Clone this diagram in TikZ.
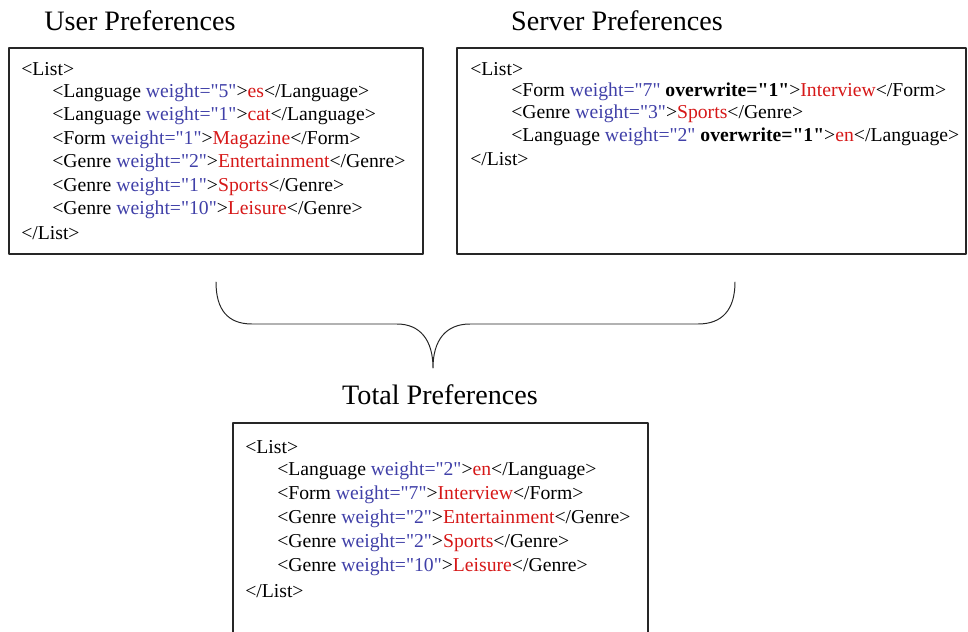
\documentclass[tikz,border=0pt]{standalone}
\usepackage{fontspec}
\newfontfamily\xmlfont{Liberation Serif}
\usetikzlibrary{positioning}
\definecolor{xmlblue}{RGB}{64,64,168}
\definecolor{xmlred}{RGB}{214,24,24}
\newcommand{\wt}[1]{\textcolor{xmlblue}{weight="#1"}}
\newcommand{\val}[1]{\textcolor{xmlred}{#1}}
\newcommand{\ow}{\textbf{overwrite="1"}}
\tikzset{
	title/.style={font=\xmlfont\fontsize{20}{24}\selectfont},
	xml/.style={anchor=west, inner sep=0pt, font=\xmlfont\fontsize{14}{17}\selectfont},
	prefbox/.style={draw=black!85, line width=.8pt},
}
\begin{document}
\begin{tikzpicture}[x=.025cm, y=-.025cm, line join=round, line cap=round]
	\useasboundingbox (0,0) rectangle (968,632);
	% titles
	\node[title] (usertitle) at (140,21) {User Preferences};
	\node[title] (servertitle) at (617,21) {Server Preferences};
	\node[title] (totaltitle) at (440,395) {Total Preferences};
	% boxes
	\draw[prefbox] (9,48) rectangle (423,254);
	\draw[prefbox] (457,48) rectangle (966,254);
	\draw[prefbox, line width=1.6pt] (233,650)--(233,423)--(648,423)--(648,650);
	% user list
	\node[xml] (u0) at (21,69) {<List>};
	\foreach \txt [count=\i] in {
		{<Language \wt{5}>\val{es}</Language>},
		{<Language \wt{1}>\val{cat}</Language>},
		{<Form \wt{1}>\val{Magazine}</Form>},
		{<Genre \wt{2}>\val{Entertainment}</Genre>},
		{<Genre \wt{1}>\val{Sports}</Genre>},
		{<Genre \wt{10}>\val{Leisure}</Genre>}}
	\node[xml] (u\i) at (52,{69+23.5*\i}) {\txt};
	\node[xml] (u7) at (21,233.5) {</List>};
	% server list
	\node[xml] (s0) at (470,69) {<List>};
	\foreach \txt [count=\i] in {
		{<Form \wt{7} \ow>\val{Interview}</Form>},
		{<Genre \wt{3}>\val{Sports}</Genre>},
		{<Language \wt{2} \ow>\val{en}</Language>}}
	\node[xml] (s\i) at (511,{69+22.5*\i}) {\txt};
	\node[xml] (s4) at (470,159) {</List>};
	% total list
	\node[xml] (t0) at (245,447) {<List>};
	\foreach \txt [count=\i] in {
		{<Language \wt{2}>\val{en}</Language>},
		{<Form \wt{7}>\val{Interview}</Form>},
		{<Genre \wt{2}>\val{Entertainment}</Genre>},
		{<Genre \wt{2}>\val{Sports}</Genre>},
		{<Genre \wt{10}>\val{Leisure}</Genre>}}
	\node[xml] (t\i) at (277,{447+24*\i}) {\txt};
	\node[xml] (t6) at (245,591) {</List>};
	% brace
	\coordinate (bl) at (216,282);
	\coordinate (br) at (735,282);
	\coordinate (tip) at (433,368);
	\draw[black!85, line width=.7pt] (bl) .. controls (216,310) and (228,324) .. (252,324) -- (397,324)
		.. controls (420,324) and (433,340) .. (tip)
		.. controls (433,340) and (446,324) .. (470,324) -- (698,324)
		.. controls (722,324) and (735,310) .. (br);
\end{tikzpicture}
\end{document}
